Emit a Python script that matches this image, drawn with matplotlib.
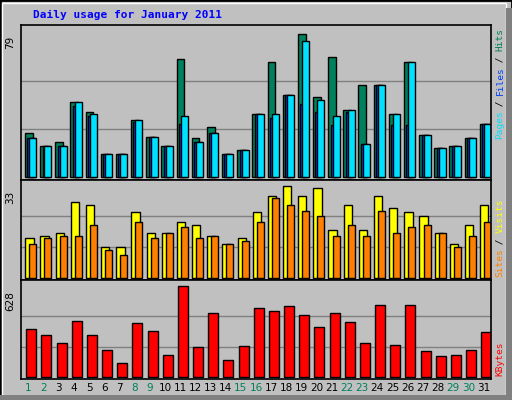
import numpy as np
import matplotlib.pyplot as plt
from matplotlib.patches import Rectangle

days = np.arange(1, 32)
weekend = [1, 2, 8, 9, 15, 16, 22, 23, 29, 30]

hits = [24.3, 17.4, 19.5, 41.5, 35.6, 12.5, 12.5, 31.3, 22.2, 17.4, 65.0, 21.6, 27.5, 12.5, 14.7, 34.5,
        63.4, 45.2, 79.0, 44.2, 66.1, 37.2, 50.6, 50.6, 34.5, 63.4, 23.2, 16.3, 17.4, 21.6, 29.2]
files = [21.6, 17.4, 17.4, 39.3, 33.4, 12.5, 12.5, 30.2, 22.2, 17.4, 29.2, 19.5, 24.3, 12.5, 14.7, 34.5,
         32.4, 45.2, 40.4, 36.1, 28.6, 35.6, 18.4, 50.6, 28.5, 28.5, 23.2, 16.3, 17.4, 21.6, 29.2]
pages = [21.6, 17.4, 17.4, 41.5, 34.5, 12.5, 12.5, 31.3, 22.2, 17.4, 33.4, 19.5, 24.3, 12.5, 14.7, 34.5,
         34.5, 45.2, 75.2, 42.5, 33.4, 37.2, 18.4, 50.6, 34.5, 63.4, 23.2, 16.3, 17.4, 21.6, 29.2]
visits = [14.4, 15.1, 16.2, 27.3, 26.2, 11.2, 11.2, 23.4, 16.2, 16.2, 20.1, 19.1, 15.1, 12.3, 14.4, 23.4,
          29.1, 33.0, 29.1, 32.3, 17.3, 26.2, 17.3, 29.1, 25.1, 23.4, 22.3, 16.2, 12.3, 19.1, 26.2]
sites = [12.3, 14.4, 15.1, 15.1, 19.1, 10.1, 8.4, 20.1, 14.4, 16.2, 18.4, 14.4, 15.1, 12.3, 13.4, 20.1,
         28.4, 26.2, 24.1, 22.3, 15.1, 19.1, 15.1, 24.1, 16.2, 18.4, 19.1, 16.2, 11.2, 15.1, 20.1]
kbytes = [332, 291, 236, 387, 291, 188, 99, 374, 319, 154, 628, 209, 442, 119, 215, 477,
          456, 490, 429, 346, 442, 380, 236, 497, 222, 497, 181, 147, 154, 188, 312]

BG = '#c0c0c0'
GREEN = '#00805c'
mono = 'DejaVu Sans Mono'

fig = plt.figure(figsize=(5.12, 4.0), dpi=100, facecolor=BG)

# 3D frame
fig.patches.append(Rectangle((0, 0), 1, 1, transform=fig.transFigure, fill=False, ec='black', lw=2))
fig.patches.append(Rectangle((0.004, 0.005), 0.984, 0.988, transform=fig.transFigure, fill=False, ec='white', lw=1))
fig.patches.append(Rectangle((0.988, 0.0), 0.012, 0.98, transform=fig.transFigure, fc='#808080', ec='none'))
fig.patches.append(Rectangle((0.0, 0.0), 1.0, 0.012, transform=fig.transFigure, fc='#808080', ec='none'))

L, W = 21 / 512, 470 / 512
ax1 = fig.add_axes([L, 0.55, W, 0.3875])
ax2 = fig.add_axes([L, 0.30, W, 0.25])
ax3 = fig.add_axes([L, 0.0525, W, 0.2475])

kw = dict(align='edge', edgecolor='black', linewidth=1)
x0 = days - 0.5
ax1.bar(x0 + 0.26, hits, 0.51, color=GREEN, **kw)
ax1.bar(x0 + 0.42, files, 0.50, color='#0040ff', **kw)
ax1.bar(x0 + 0.55, pages, 0.46, color='#00e0ff', **kw)
ax2.bar(x0 + 0.28, visits, 0.55, color='#ffff00', **kw)
ax2.bar(x0 + 0.55, sites, 0.46, color='#ff8000', **kw)
ax3.bar(x0 + 0.35, kbytes, 0.66, color='#ff0000', **kw)

for ax, top in [(ax1, 79), (ax2, 33), (ax3, 628)]:
    ax.set_facecolor(BG)
    ax.set_xlim(0.5, 31.5)
    ax.set_ylim(-top * 0.02, top * 1.06)
    for g in (top / 3, top * 2 / 3):
        ax.axhline(g, color='#808080', lw=1, zorder=0)
    ax.set_xticks([])
    ax.set_yticks([])
    for s in ax.spines.values():
        s.set_color('black')
        s.set_linewidth(1.2)
    ax.text(-0.012, 1 - 0.035 * 0.3875 / ax.get_position().height * 2, str(top),
            transform=ax.transAxes, rotation=90, ha='right', va='top',
            fontsize=7.5, family='DejaVu Sans')

for d in days:
    ax3.text(d, -0.04, str(d), transform=ax3.get_xaxis_transform(), ha='center', va='top',
             fontsize=7.5, color=GREEN if d in weekend else 'black')

fig.text(33 / 512, 1 - 15 / 400, 'Daily usage for January 2011', color='#0000ff',
         fontsize=8, family=mono, weight='bold', va='center', ha='left')


def side_label(parts, y_bottom_px):
    cw = 5.5
    y = y_bottom_px
    for txt, col in parts:
        fig.text(500 / 512, 1 - y / 400, txt, rotation=90, color=col, fontsize=6.8,
                 family=mono, ha='center', va='bottom')
        y -= cw * len(txt)


side_label([('Pages', '#00e0ff'), (' / ', '#000000'), ('Files', '#0040ff'),
            (' / ', '#000000'), ('Hits', GREEN)], 139)
side_label([('Sites', '#ff8000'), (' / ', '#000000'), ('Visits', '#ffff00')], 277)
side_label([('KBytes', '#ff0000')], 376)

fig.savefig('out.png', dpi=100, facecolor=BG)
